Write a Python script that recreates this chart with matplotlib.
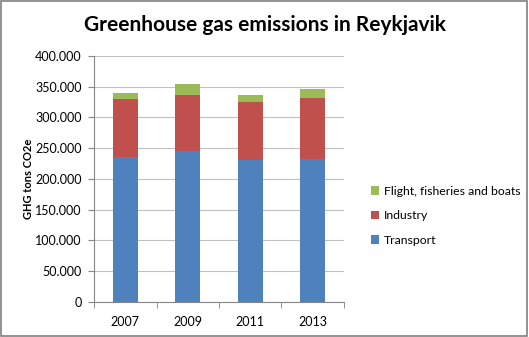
import matplotlib
matplotlib.use("Agg")
import matplotlib.pyplot as plt
import numpy as np
from matplotlib.ticker import FuncFormatter
from matplotlib.patches import Rectangle

years = ['2007', '2009', '2011', '2013']
transport = [236000, 245600, 231600, 233200]
industry = [93400, 90900, 92900, 98400]
flight = [10400, 17200, 11300, 14200]

plt.rcParams['font.family'] = ['Lato', 'DejaVu Sans']

fig = plt.figure(figsize=(5.29, 3.37), dpi=100)
ax = fig.add_axes([0.178, 0.104, 0.472, 0.730])

x = np.arange(len(years))
w = 0.4
b1 = ax.bar(x, transport, w, color='#4f81bd', label='Transport', zorder=3)
b2 = ax.bar(x, industry, w, bottom=transport, color='#c0504d', label='Industry', zorder=3)
bottom2 = np.array(transport) + np.array(industry)
b3 = ax.bar(x, flight, w, bottom=bottom2, color='#9bbb59', label='Flight, fisheries and boats', zorder=3)

ax.set_xlim(-0.5, len(years) - 0.5)
ax.set_ylim(0, 400000)
ax.set_yticks(range(0, 400001, 50000))
ax.yaxis.set_major_formatter(FuncFormatter(lambda v, p: '{:,.0f}'.format(v).replace(',', '.')))
ax.set_xticks(x)
ax.set_xticklabels(years)
ax.set_xticks(np.arange(-0.5, len(years), 1), minor=True)
ax.tick_params(axis='x', which='major', length=0, labelsize=9, pad=10)
ax.tick_params(axis='x', which='minor', length=4, color='#868686')
ax.tick_params(axis='y', length=4, color='#868686', labelsize=9, pad=5)
ax.grid(axis='y', color='#c0c0c0', linewidth=0.8, zorder=0)
for s in ['top', 'right']:
    ax.spines[s].set_visible(False)
ax.spines['left'].set_color('#868686')
ax.spines['bottom'].set_color('#868686')
ax.set_ylabel('GHG tons CO2e', fontsize=8, fontweight='bold', labelpad=1)

fig.suptitle('Greenhouse gas emissions in Reykjavik', fontsize=15, fontweight='bold', x=0.5, y=0.955)

handles = [b3, b2, b1]
leg = fig.legend(handles, [h.get_label() for h in handles], loc='center left',
                 bbox_to_anchor=(0.68, 0.36), frameon=False, fontsize=8.8,
                 handlelength=0.7, handleheight=0.7, labelspacing=1.1, handletextpad=0.4)

fig.patches.append(Rectangle((0.002, 0.003), 0.994, 0.993, transform=fig.transFigure,
                             fill=False, edgecolor='#7f7f7f', linewidth=1.2))

fig.savefig('out.png', dpi=100)
